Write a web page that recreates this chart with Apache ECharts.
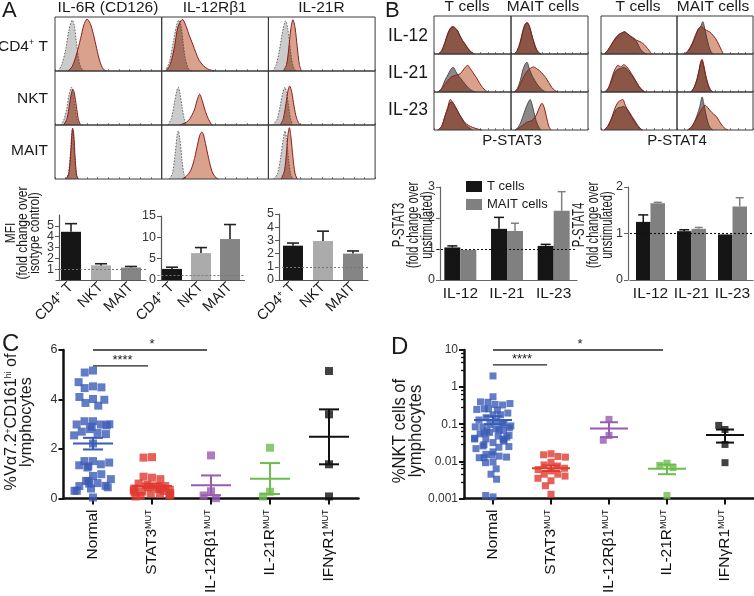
<!DOCTYPE html>
<html><head><meta charset="utf-8">
<script src="https://cdn.jsdelivr.net/npm/echarts@6/dist/echarts.min.js"></script>
<style>html,body{margin:0;padding:0;background:#fff}#c{width:754px;height:596px}</style>
</head><body><div id="c"></div><script>
// ---------------- DATA ----------------
// Panel A flow histograms, [x% of panel, relative height]; rows: CD4+ T, NKT, MAIT; cols: IL-6R, IL-12Rb1, IL-21R
const aColTitles = ['IL-6R (CD126)', 'IL-12Rβ1', 'IL-21R'];
const aRowLabels = ['CD4{sup|+} T', 'NKT', 'MAIT'];
const aIsotype = [
  [[[3,0],[6,0.1],[10,0.4],[13,0.75],[16,0.94],[18,0.85],[20,0.55],[22,0.25],[24,0.08],[27,0]],
   [[3,0],[7,0.15],[11,0.55],[14,0.85],[16,0.94],[18,0.85],[20,0.55],[22,0.25],[25,0.05],[28,0]],
   [[4,0],[7,0.1],[10,0.35],[13,0.7],[16,0.93],[18,0.8],[20,0.5],[22,0.2],[24,0.05],[26,0]]],
  [[[5,0],[8,0.08],[11,0.3],[13,0.55],[15.5,0.7],[17,0.6],[19,0.3],[21,0.08],[23,0]],
   [[6,0],[9,0.12],[12,0.42],[14,0.62],[15.5,0.7],[17,0.6],[19,0.35],[21,0.12],[23,0]],
   [[4,0],[8,0.1],[11,0.35],[13.5,0.6],[15.6,0.7],[17,0.6],[19,0.35],[21,0.1],[23,0]]],
  [[[10,0],[12.5,0.1],[14.5,0.5],[16,0.9],[17,0.85],[18.5,0.4],[20,0.08],[22,0]],
   [[7,0],[10,0.1],[12.5,0.45],[14.5,0.82],[15.5,0.89],[17,0.75],[19,0.35],[21,0.08],[23,0]],
   [[5,0],[8.5,0.1],[11.5,0.4],[14,0.75],[15.6,0.89],[17,0.75],[19,0.35],[21,0.08],[23,0]]]
];
const aStained = [
  [[[12,0],[16,0.08],[20,0.3],[24,0.6],[27,0.85],[30,0.96],[33,0.88],[36,0.68],[39,0.42],[42,0.18],[45,0.04],[48,0]],
   [[4,0],[8,0.12],[12,0.45],[15,0.8],[18,0.93],[20,0.95],[23,0.82],[26,0.65],[29,0.5],[32,0.34],[35,0.2],[39,0.1],[43,0.04],[49,0]],
   [[14,0],[17,0.12],[19,0.4],[21,0.78],[23,0.95],[25,0.8],[27,0.45],[29,0.12],[31,0]]],
  [[[8,0],[11,0.1],[13,0.3],[15,0.55],[16.7,0.66],[18,0.6],[20,0.35],[22,0.1],[24,0]],
   [[17,0],[21,0.03],[25,0.08],[28,0.17],[31,0.3],[33,0.45],[35.6,0.57],[38,0.45],[41,0.25],[44,0.1],[47,0]],
   [[11,0],[14,0.12],[16.5,0.4],[18.5,0.65],[20,0.72],[22,0.6],[24,0.35],[26.5,0.12],[29.5,0]]],
  [[[10.5,0],[13,0.1],[15,0.55],[16.4,0.94],[17.5,0.85],[19,0.35],[20.5,0.05],[22,0]],
   [[19,0],[23,0.05],[27,0.15],[30,0.32],[33,0.58],[35.5,0.8],[37.5,0.87],[39,0.83],[41,0.66],[44,0.38],[47,0.15],[50,0.04],[53,0]],
   [[12,0],[15,0.15],[17,0.5],[18.5,0.85],[19.7,0.95],[21,0.8],[23,0.4],[25,0.1],[27,0]]]
];
// Panel B histograms; rows IL-12, IL-21, IL-23; cols T cells, MAIT cells
const bColTitles = ['T cells', 'MAIT cells'];
const bRowLabels = ['IL-12', 'IL-21', 'IL-23'];
const bBlockTitles = ['P-STAT3', 'P-STAT4'];
const stat3Unstim = [
  [[[6,0],[10,0.08],[14,0.27],[18,0.52],[22,0.68],[25,0.71],[28,0.66],[31,0.6],[34,0.45],[37,0.35],[40,0.27],[44,0.15],[47,0.08],[52,0]],
   [[4,0],[8,0.08],[12,0.3],[15,0.55],[18,0.75],[21,0.82],[24,0.72],[27,0.5],[30,0.3],[33,0.13],[36,0.04],[39,0]]],
  [[[5,0],[10,0.1],[14,0.3],[18,0.45],[22,0.6],[25,0.65],[28,0.55],[31,0.45],[35,0.35],[40,0.22],[45,0.1],[50,0.03],[54,0]],
   [[4,0],[8,0.08],[12,0.3],[15,0.55],[18,0.72],[21,0.78],[24,0.6],[27,0.45],[31,0.3],[36,0.15],[41,0.05],[45,0]]],
  [[[5,0],[10,0.1],[14,0.35],[18,0.58],[21,0.72],[24,0.72],[28,0.6],[32,0.45],[36,0.3],[40,0.17],[45,0.07],[50,0]],
   [[5,0],[9,0.06],[13,0.22],[17,0.45],[20,0.62],[23,0.75],[25,0.8],[27,0.7],[30,0.45],[33,0.22],[36,0.08],[39,0]]]
];
const stat3Stim = [
  [[[6,0],[10,0.09],[14,0.3],[18,0.55],[22,0.7],[25,0.72],[28,0.68],[31,0.6],[34,0.47],[37,0.36],[40,0.27],[44,0.15],[47,0.07],[52,0]],
   [[4,0],[8,0.09],[12,0.32],[15,0.58],[18,0.78],[21,0.83],[24,0.73],[27,0.5],[30,0.28],[33,0.12],[36,0.03],[39,0]]],
  [[[5,0],[10,0.08],[15,0.22],[20,0.35],[25,0.42],[30,0.45],[34,0.48],[38,0.58],[41,0.66],[44,0.7],[47,0.62],[51,0.5],[55,0.38],[59,0.24],[63,0.12],[67,0.04],[70,0]],
   [[4,0],[9,0.08],[13,0.25],[17,0.42],[21,0.55],[25,0.62],[29,0.66],[33,0.62],[37,0.56],[41,0.48],[45,0.38],[49,0.25],[53,0.12],[57,0.04],[61,0]]],
  [[[5,0],[10,0.1],[14,0.35],[18,0.6],[21,0.8],[24,0.74],[28,0.6],[32,0.45],[36,0.32],[40,0.2],[45,0.12],[50,0.07],[56,0.03],[62,0]],
   [[5,0],[10,0.05],[15,0.12],[20,0.2],[25,0.23],[29,0.28],[33,0.4],[36,0.55],[39,0.68],[40.5,0.7],[43,0.6],[46,0.35],[49,0.1],[52,0]]]
];
const stat4Unstim = [
  [[[4,0],[9,0.1],[14,0.25],[19,0.4],[24,0.52],[28,0.56],[31,0.58],[35,0.52],[39,0.46],[43,0.4],[47,0.32],[50,0.2],[53,0.1],[57,0.03],[60,0]],
   [[10,0],[15,0.08],[20,0.25],[24,0.45],[28,0.65],[31,0.72],[34,0.85],[36,0.72],[39,0.45],[42,0.2],[45,0.05],[48,0]]],
  [[[5,0],[10,0.1],[14,0.3],[18,0.5],[22,0.6],[26,0.62],[30,0.65],[34,0.6],[38,0.5],[42,0.4],[46,0.28],[50,0.15],[54,0.06],[58,0]],
   [[18,0],[22,0.1],[26,0.3],[29,0.55],[31,0.75],[33,0.83],[35,0.7],[38,0.4],[41,0.18],[44,0.05],[47,0]]],
  [[[4,0],[9,0.1],[14,0.3],[18,0.48],[22,0.58],[26,0.6],[30,0.62],[34,0.55],[38,0.45],[42,0.32],[46,0.2],[50,0.08],[54,0]],
   [[14,0],[19,0.08],[23,0.22],[27,0.42],[30,0.62],[33,0.87],[35,0.72],[38,0.42],[41,0.18],[44,0.05],[47,0]]]
];
const stat4Stim = [
  [[[4,0],[9,0.1],[14,0.26],[19,0.42],[24,0.52],[28,0.56],[31,0.59],[35,0.53],[39,0.47],[43,0.42],[47,0.36],[51,0.33],[55,0.28],[59,0.2],[63,0.1],[67,0]],
   [[10,0],[15,0.1],[20,0.28],[24,0.48],[28,0.66],[31.6,0.72],[35,0.68],[39,0.62],[43,0.58],[47,0.5],[51,0.4],[55,0.25],[58,0.12],[61,0]]],
  [[[5,0],[10,0.12],[14,0.35],[18,0.58],[22,0.7],[26,0.66],[30,0.72],[34,0.66],[38,0.55],[42,0.42],[46,0.28],[50,0.15],[54,0.05],[58,0]],
   [[18,0],[22,0.1],[26,0.32],[29,0.58],[31,0.78],[33,0.86],[35,0.72],[38,0.42],[41,0.2],[44,0.06],[47,0]]],
  [[[4,0],[9,0.1],[14,0.32],[18,0.55],[22,0.72],[26,0.78],[29,0.8],[32,0.65],[36,0.5],[40,0.35],[44,0.22],[48,0.1],[52,0.03],[55,0]],
   [[14,0],[19,0.08],[23,0.2],[27,0.35],[31,0.5],[34,0.6],[37,0.65],[40,0.6],[44,0.5],[48,0.42],[52,0.35],[56,0.22],[60,0.1],[64,0.03],[67,0]]]
];
// Panel A bar charts (MFI fold change); error = top of SEM bar
const aBarCats = ['CD4+ T', 'NKT', 'MAIT'];
const il6rMFI = [4.45, 1.35, 1.15];   const il6rErr = [5.2, 1.5, 1.25];
const il12rMFI = [2.6, 6.3, 9.6];     const il12rErr = [3.0, 7.6, 13.0];
const il21rMFI = [2.6, 2.95, 2.0];    const il21rErr = [2.8, 3.7, 2.2];
const refLevel = 1;
// Panel B bar charts
const bBarCats = ['IL-12', 'IL-21', 'IL-23'];
const stat3T = [1.05, 1.65, 1.1];  const stat3TErr = [1.1, 2.02, 1.15];
const stat3M = [0.97, 1.58, 2.23]; const stat3MErr = [0.97, 1.83, 2.85];
const stat4T = [1.25, 1.05, 0.98]; const stat4TErr = [1.4, 1.08, 0.98];
const stat4M = [1.65, 1.1, 1.58];  const stat4MErr = [1.67, 1.13, 1.77];
// Panels C and D
const groupCats = ['Normal', 'STAT3', 'IL-12Rβ1', 'IL-21R', 'IFNγR1'];
const maitNormal = [5.17,5.09,4.53,4.46,4.49,4.70,4.02,3.86,3.75,3.99,4.10,3.12,3.12,2.99,2.99,3.0,2.95,2.9,2.8,2.7,2.65,2.6,2.55,2.22,1.51,1.25,1.38,1.34,1.45,1.51,1.3,0.91,0.98,0.71,0.62,0.51,0.5,0.6,0.78,0.7,0.45,0.4,0.31,0.31,0.04];
const maitSTAT3 = [1.67,1.65,0.84,0.88,0.78,0.6,0.55,0.5,0.48,0.45,0.42,0.4,0.38,0.35,0.32,0.3,0.28,0.25,0.22,0.2,0.18,0.15,0.12,0.1,0.08];
const maitIL12R = [1.74,0.29,0.12,0.01];
const maitIL21R = [2.05,0.27,0.08];
const maitIFNGR = [5.15,3.4,1.38,0.08];
const maitMean = [2.22, 0.5, 0.53, 0.8, 2.49];
const maitSemLo = [1.98, 0.43, 0.13, 0.18, 1.38];
const maitSemHi = [2.45, 0.6, 0.93, 1.43, 3.6];
const maitSig = [[0, 1, 5.36, '****'], [0, 2, 6, '*']];
const nktNormal = [2.0,0.55,0.39,0.34,0.33,0.40,0.36,0.26,0.25,0.26,0.24,0.18,0.18,0.2,0.15,0.13,0.12,0.11,0.098,0.085,0.09,0.085,0.08,0.1,0.075,0.07,0.068,0.065,0.06,0.058,0.055,0.05,0.048,0.04,0.04,0.042,0.04,0.045,0.038,0.035,0.032,0.026,0.025,0.028,0.024,0.022,0.018,0.0154,0.0138,0.013,0.0125,0.0126,0.015,0.0096,0.0092,0.0063,0.0045,0.0033,0.0011,0.0012];
const nktSTAT3 = [0.016,0.015,0.0135,0.013,0.0095,0.008,0.0075,0.0065,0.006,0.0055,0.0045,0.0045,0.004,0.0035,0.003,0.0022,0.0013];
const nktIL12R = [0.135,0.05,0.037];
const nktIL21R = [0.0089,0.0078,0.0068,0.0012];
const nktIFNGR = [0.072,0.093,0.0285,0.0092];
const nktMean = [0.13, 0.0065, 0.077, 0.0063, 0.051];
const nktSemLo = [0.1, 0.0055, 0.045, 0.0045, 0.032];
const nktSemHi = [0.165, 0.0077, 0.113, 0.0082, 0.072];
const nktSig = [[0, 1, 3.96, '****'], [0, 3, 10, '*']];
const logTickLabels = ['0.001', '0.01', '0.1', '1', '10'];

// ---------------- BUILD ----------------
const FF = 'Liberation Sans, Arial, Helvetica, sans-serif';
const grids = [], xAxes = [], yAxes = [], series = [], graphics = [];
const supRich = {sup: {fontSize: 9, verticalAlign: 'top', fontFamily: FF, color: '#1a1a1a', padding: [0, 0, 6, 0]}};

function histGrid(left, top, w, h) {
  const i = grids.length;
  grids.push({left, top, width: w, height: h, show: true, borderColor: '#3a3a3a', borderWidth: 1, z: 10});
  xAxes.push({gridIndex: i, type: 'value', min: 0, max: 100, interval: 10, axisLine: {show: false},
    axisLabel: {show: false}, splitLine: {show: false},
    axisTick: {show: true, inside: true, length: 2, lineStyle: {color: '#555', width: 0.7}}});
  yAxes.push({gridIndex: i, type: 'value', min: 0, max: 1, show: false});
  return i;
}
// one panel: isotype/unstimulated (grey) + stained/stimulated (salmon); overlap drawn darker
function histPanel(gi, iso, stim, pal) {
  series.push({type: 'custom', xAxisIndex: gi, yAxisIndex: gi, silent: true, data: iso.concat(stim),
    renderItem(params, api) {
      if (params.dataIndex !== 0) return;
      const a = iso.map(p => api.coord(p)), b = stim.map(p => api.coord(p));
      const sm = 0.3;
      return {type: 'group', children: [
        {type: 'polyline', shape: {points: a, smooth: sm}, style: {fill: pal.gray, stroke: null}},
        {type: 'polyline', shape: {points: b, smooth: sm}, style: {fill: pal.salmon, stroke: null}},
        {type: 'polyline', shape: {points: b, smooth: sm}, style: {fill: pal.over, stroke: null},
          clipPath: {type: 'polyline', shape: {points: a, smooth: sm}}},
        {type: 'polyline', shape: {points: a, smooth: sm}, style: {fill: null, stroke: pal.grayLine, lineWidth: 0.8, lineDash: pal.dash}},
        {type: 'polyline', shape: {points: b, smooth: sm}, style: {fill: null, stroke: '#8a1d1d', lineWidth: 1}}
      ]};
    }});
}
const palA = {gray: '#cbcbcb', salmon: '#daa28c', over: '#a8705f', grayLine: '#444', dash: [1.5, 1.5]};
const palB = {gray: '#8a8a8a', salmon: '#d9a08a', over: '#8c5646', grayLine: '#333', dash: null};
for (let r = 0; r < 3; r++) for (let c = 0; c < 3; c++) {
  const gi = histGrid(55 + c * 106.7, 17 + r * 54, 106.7, 54);
  histPanel(gi, aIsotype[r][c], aStained[r][c], palA);
}
const bBlocks = [[stat3Unstim, stat3Stim, 434, 77], [stat4Unstim, stat4Stim, 601, 76]];
bBlocks.forEach(([un, st, x0, w]) => {
  for (let r = 0; r < 3; r++) for (let c = 0; c < 2; c++) {
    const gi = histGrid(x0 + c * w, 16 + r * 38, w, 38);
    histPanel(gi, un[r][c], st[r][c], palB);
  }
});

// bar chart helpers
function barGrid(left, top, w, h, cats, yMax, yInt, yOff, labelOpt, axisColor) {
  const i = grids.length;
  grids.push({left, top, width: w, height: h});
  xAxes.push({gridIndex: i, type: 'category', data: cats,
    axisLine: {lineStyle: {color: axisColor, width: 1.2}}, axisTick: {show: false}, axisLabel: labelOpt});
  yAxes.push({gridIndex: i, type: 'value', min: 0, max: yMax, interval: yInt, offset: yOff,
    axisLine: {show: true, lineStyle: {color: axisColor, width: 1.2}},
    axisTick: {show: true, length: 4, lineStyle: {color: axisColor, width: 1}},
    axisLabel: {fontSize: 12.5, color: '#333', margin: 5, fontFamily: FF}, splitLine: {show: false}});
  return i;
}
function errBars(gi, vals, errs, offset, color, capHalf, lw) {
  series.push({type: 'custom', xAxisIndex: gi, yAxisIndex: gi, silent: true, z: 3,
    data: vals.map((v, k) => [k, v, errs[k]]),
    renderItem(params, api) {
      if (api.value(2) <= api.value(1)) return;
      const p0 = api.coord([api.value(0), api.value(1)]);
      const p1 = api.coord([api.value(0), api.value(2)]);
      const x = p0[0] + offset;
      const s = {stroke: color, lineWidth: lw};
      return {type: 'group', children: [
        {type: 'line', shape: {x1: x, y1: p0[1], x2: x, y2: p1[1]}, style: s},
        {type: 'line', shape: {x1: x - capHalf, y1: p1[1], x2: x + capHalf, y2: p1[1]}, style: s}]};
    }});
}
function refLine(color) {
  return {silent: true, symbol: 'none', label: {show: false}, animation: false,
    lineStyle: {type: [2, 2], color, width: 1.1}, data: [{yAxis: refLevel}]};
}
const aLabel = {rotate: 45, fontSize: 14.5, color: '#1a1a1a', margin: 5, interval: 0, fontFamily: FF,
  formatter: v => v.replace('+', '{sup|+}'), rich: supRich};
const aBarColors = ['#161616', '#ababab', '#858585'];
const aBarSets = [[il6rMFI, il6rErr, 56, 215, 90, 65, 6, 1, -3],
                  [il12rMFI, il12rErr, 157.5, 216, 87, 64, 15, 5, -3.5],
                  [il21rMFI, il21rErr, 278, 214, 90, 66, 5, 1, -1]];
aBarSets.forEach(([vals, errs, l, t, w, h, ym, yi, yo]) => {
  const gi = barGrid(l, t, w, h, aBarCats, ym, yi, yo, aLabel, '#555');
  series.push({type: 'bar', xAxisIndex: gi, yAxisIndex: gi, barWidth: 20, silent: true,
    data: vals.map((v, k) => ({value: v, itemStyle: {color: aBarColors[k]}})),
    markLine: refLine('#777')});
  errBars(gi, vals, errs, 0, '#222', 6, 1.6);
});
const bLabel = {fontSize: 15.5, color: '#1a1a1a', margin: 6, interval: 0, fontFamily: FF};
const bBarSets = [[stat3T, stat3TErr, stat3M, stat3MErr, 437, 140, 3, -3, 16],
                  [stat4T, stat4TErr, stat4M, stat4MErr, 630, 123, 2, 2, 14.5]];
bBarSets.forEach(([tv, te, mv, me, l, w, ym, yo, bw]) => {
  const gi = barGrid(l, 187, w, 93, bBarCats, ym, 1, yo, bLabel, '#666');
  series.push({name: 'T cells', type: 'bar', xAxisIndex: gi, yAxisIndex: gi, barWidth: bw, barGap: '0%',
    silent: true, data: tv, itemStyle: {color: '#151515'}, markLine: refLine('#111')});
  series.push({name: 'MAIT cells', type: 'bar', xAxisIndex: gi, yAxisIndex: gi, barWidth: bw, barGap: '0%',
    silent: true, data: mv, itemStyle: {color: '#808080'}});
  errBars(gi, tv, te, -bw / 2, '#151515', 5, 1.5);
  errBars(gi, mv, me, bw / 2, '#808080', 4, 1.5);
});

// scatter panels
const groupColors = ['#3b5bb6', '#df3a2f', '#995bb0', '#6dbd4e', '#111111'];
const catLabel = {rotate: 90, fontSize: 15.5, color: '#111', margin: 11, interval: 0, fontFamily: FF,
  formatter: (v, i) => i === 0 ? v : v + '{sup|MUT}', rich: {sup: {fontSize: 9, verticalAlign: 'top', fontFamily: FF, color: '#111', padding: [0, 0, 5, 0]}}};
function scatterGrid(left, w, yAxisOpt) {
  const i = grids.length;
  grids.push({left, top: 350, width: w, height: 149});
  xAxes.push({gridIndex: i, type: 'category', data: groupCats, jitter: 38, jitterOverlap: false, jitterMargin: 0.5,
    axisLine: {lineStyle: {color: '#111', width: 2.5}},
    axisTick: {show: true, alignWithLabel: true, length: 6, lineStyle: {color: '#111', width: 2}},
    axisLabel: catLabel});
  yAxes.push(Object.assign({gridIndex: i, splitLine: {show: false},
    axisLine: {show: true, lineStyle: {color: '#111', width: 2.5}},
    axisTick: {show: true, length: 5, lineStyle: {color: '#111', width: 2}}}, yAxisOpt));
  return i;
}
function groupScatter(gi, groups, size) {
  groups.forEach((vals, k) => series.push({type: 'scatter', xAxisIndex: gi, yAxisIndex: gi, silent: true,
    symbol: 'rect', symbolSize: size, itemStyle: {color: groupColors[k]}, data: vals.map(v => [k, v])}));
}
function meanSem(gi, means, lo, hi, half, capHalf) {
  series.push({type: 'custom', xAxisIndex: gi, yAxisIndex: gi, silent: true, z: 5,
    data: means.map((m, k) => [k, m, lo[k], hi[k]]),
    renderItem(params, api) {
      const k = api.value(0);
      const pm = api.coord([k, api.value(1)]), pl = api.coord([k, api.value(2)]), ph = api.coord([k, api.value(3)]);
      const x = pm[0], s = {stroke: groupColors[params.dataIndex], lineWidth: 2};
      return {type: 'group', children: [
        {type: 'line', shape: {x1: x - half, y1: pm[1], x2: x + half, y2: pm[1]}, style: s},
        {type: 'line', shape: {x1: x, y1: pl[1], x2: x, y2: ph[1]}, style: s},
        {type: 'line', shape: {x1: x - capHalf, y1: pl[1], x2: x + capHalf, y2: pl[1]}, style: s},
        {type: 'line', shape: {x1: x - capHalf, y1: ph[1], x2: x + capHalf, y2: ph[1]}, style: s}]};
    }});
}
function sigBars(gi, sig) {
  series.push({type: 'custom', xAxisIndex: gi, yAxisIndex: gi, silent: true, z: 6,
    data: sig.map(s => [s[0], s[2], s[1]]),
    renderItem(params, api) {
      const s = sig[params.dataIndex];
      const p0 = api.coord([s[0], s[2]]), p1 = api.coord([s[1], s[2]]);
      return {type: 'group', children: [
        {type: 'line', shape: {x1: p0[0], y1: p0[1], x2: p1[0] - 4, y2: p1[1]}, style: {stroke: '#222', lineWidth: 1.3}},
        {type: 'text', x: (p0[0] + p1[0]) / 2, y: p0[1] + 1,
          style: {text: s[3], fontSize: 13, fontFamily: FF, fill: '#222', align: 'center', verticalAlign: 'bottom'}}]};
    }});
}
const gC = scatterGrid(63.5, 295, {type: 'value', min: 0, max: 6, interval: 2,
  axisLabel: {fontSize: 12.5, color: '#333', margin: 6, fontFamily: FF}});
groupScatter(gC, [maitNormal, maitSTAT3, maitIL12R, maitIL21R, maitIFNGR], 8);
meanSem(gC, maitMean, maitSemLo, maitSemHi, 20, 10);
sigBars(gC, maitSig);
const gD = scatterGrid(464, 293, {type: 'log', logBase: 10, min: 0.001, max: 10,
  minorTick: {show: true, splitNumber: 5, length: 3, lineStyle: {color: '#111', width: 1.3}},
  axisLabel: {fontSize: 12, color: '#333', margin: 6, fontFamily: FF,
    formatter: v => logTickLabels[Math.round(Math.log10(v)) + 3]}});
groupScatter(gD, [nktNormal, nktSTAT3, nktIL12R, nktIL21R, nktIFNGR], 7);
meanSem(gD, nktMean, nktSemLo, nktSemHi, 19, 9);
sigBars(gD, nktSig);

// ---------------- TEXT ----------------
function txt(x, y, text, size, o) {
  o = o || {};
  graphics.push({type: 'text', x, y, rotation: o.rot || 0, scaleX: o.sx || 1, scaleY: o.sy || 1, silent: true,
    style: {text, fontSize: size, fontFamily: FF, fill: '#1a1a1a', align: o.align || 'center',
      verticalAlign: 'middle', lineHeight: o.lh, rich: o.rich}});
}
const R = Math.PI / 2;
txt(2, 11, 'A', 22, {align: 'left'});
aColTitles.forEach((t, c) => txt(108 + c * 106.7, 8, t, 15.5));
aRowLabels.forEach((t, r) => txt(48, 47 + r * 52, t, 15.5, {align: 'right', rich: {sup: {fontSize: 9, verticalAlign: 'top', fontFamily: FF, padding: [0, 0, 8, 0]}}}));
txt(23, 233, 'MFI\n(fold change over\nisotype control)', 14, {rot: R, lh: 12, sx: 0.86});
txt(385, 11, 'B', 22, {align: 'left'});
[467, 543, 638, 713].forEach((x, k) => txt(x, 7, bColTitles[k % 2], 15.5));
bRowLabels.forEach((t, r) => txt(428, 36 + r * 37, t, 17.5, {align: 'right'}));
txt(512, 141, bBlockTitles[0], 15);
txt(677, 141, bBlockTitles[1], 15);
txt(413, 225, 'P-STAT3\n(fold change over\nunstimulated)', 17, {rot: R, lh: 14, sx: 0.66});
txt(593, 225, 'P-STAT4\n(fold change over\nunstimulated)', 17, {rot: R, lh: 14, sx: 0.66});
txt(2, 344, 'C', 24, {align: 'left'});
txt(19, 422, '%Vα7.2{s|+}CD161{s|hi} of\nlymphocytes', 17, {rot: R, lh: 15, sx: 0.95,
  rich: {s: {fontSize: 9, verticalAlign: 'top', fontFamily: FF, padding: [0, 0, 7, 0]}}});
txt(391, 347, 'D', 24, {align: 'left'});
txt(408, 431, '%NKT cells of\nlymphocytes', 17.5, {rot: R, lh: 16, sx: 0.95});

const chart = echarts.init(document.getElementById('c'), null, {renderer: 'canvas'});
chart.setOption({
  animation: false, backgroundColor: '#fff', textStyle: {fontFamily: FF},
  grid: grids, xAxis: xAxes, yAxis: yAxes, series,
  legend: {data: ['T cells', 'MAIT cells'], orient: 'vertical', left: 461, top: 175, icon: 'rect',
    itemWidth: 16, itemHeight: 11, itemGap: 5, selectedMode: false,
    textStyle: {fontSize: 13, color: '#1a1a1a', fontFamily: FF}},
  graphic: graphics
});
</script></body></html>
